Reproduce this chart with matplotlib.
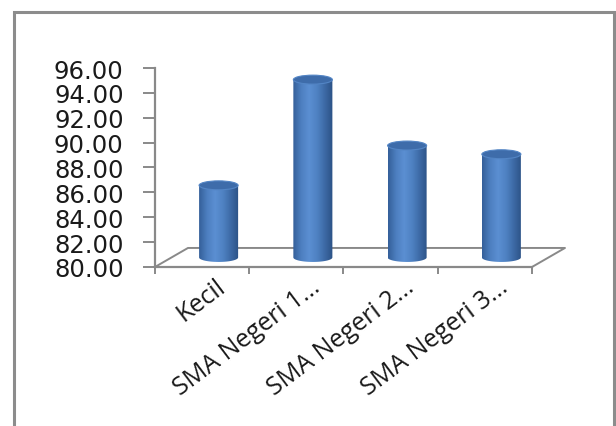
import numpy as np
import matplotlib
matplotlib.use("Agg")
import matplotlib.pyplot as plt
from matplotlib.patches import Ellipse, PathPatch, Rectangle
from matplotlib.path import Path
from matplotlib.colors import LinearSegmentedColormap

categories = ["Kecil", "SMA Negeri 1...", "SMA Negeri 2...", "SMA Negeri 3..."]
values = [85.8, 94.3, 89.0, 88.3]
y_ticks = [80, 82, 84, 86, 88, 90, 92, 94, 96]

# 3d look: depth offset of the floor (in data units), bar and cap sizes
depth_x, depth_y = 0.35, 1.53
bar_w = 0.414
cap_h = 0.72
axis_grey = "#898989"

fig = plt.figure(figsize=(6.16, 4.27), dpi=100)
ax = fig.add_axes([0.2516, 0.3724, 0.6688, 0.466])
ax.set_xlim(0, 4.371)
ax.set_ylim(80, 96)

for s in ["top", "right"]:
    ax.spines[s].set_visible(False)
for s in ["left", "bottom"]:
    ax.spines[s].set_color(axis_grey)
    ax.spines[s].set_linewidth(1.6)
ax.spines["bottom"].set_bounds(0, len(categories))

# floor outline
n = len(categories)
fx = [0, n, n + depth_x, depth_x, 0]
fy = [80, 80, 80 + depth_y, 80 + depth_y, 80]
ax.plot(fx, fy, color=axis_grey, lw=1.4, clip_on=False, zorder=1)

cmap = LinearSegmentedColormap.from_list(
    "cyl", ["#35609a", "#4d7fc0", "#5b8fd2", "#4f82c3", "#3d6aa6", "#2c5286"])
grad = np.linspace(0, 1, 64).reshape(1, -1)

# bars stand in the middle of the floor, height measured from there
base = 80 + depth_y / 2
for i, v in enumerate(values):
    cx = i + 0.5 + depth_x / 2
    top = base + (v - 80)
    x0, x1 = cx - bar_w / 2, cx + bar_w / 2
    t = np.linspace(np.pi, 2 * np.pi, 40)
    arc_x = cx + bar_w / 2 * np.cos(t)
    arc_y = base + cap_h / 2 * np.sin(t)
    verts = [(x0, top)] + list(zip(arc_x, arc_y)) + [(x1, top), (x0, top)]
    body = PathPatch(Path(verts), facecolor="none", edgecolor="none")
    ax.add_patch(body)
    im = ax.imshow(grad, cmap=cmap, aspect="auto",
                   extent=[x0, x1, base - cap_h, top], zorder=2)
    im.set_clip_path(body)
    cap = Ellipse((cx, top), bar_w, cap_h, facecolor="#3e6caa",
                  edgecolor="#5385c5", lw=0.8, zorder=3)
    ax.add_patch(cap)

ax.set_xlim(0, 4.371)
ax.set_ylim(80, 96)

ax.set_yticks(y_ticks)
ax.set_yticklabels([f"{t:.2f}" for t in y_ticks], fontsize=17.5,
                   family="DejaVu Sans", color="#1a1a1a")
ax.tick_params(axis="y", direction="out", length=8.5, width=1.4,
               color=axis_grey, pad=14)

ax.set_xticks(range(n + 1))
ax.set_xticklabels([])
ax.tick_params(axis="x", which="major", direction="out", length=5,
               width=1.4, color=axis_grey)
ax.set_xticks([i + 0.72 for i in range(n)], categories, minor=True)
ax.tick_params(axis="x", which="minor", length=0, pad=12)
for lab in ax.get_xticklabels(minor=True):
    lab.set_rotation(37)
    lab.set_rotation_mode("anchor")
    lab.set_ha("right")
    lab.set_va("center")
    lab.set_fontsize(18)
    lab.set_family("Open Sans")
    lab.set_color("#1a1a1a")

# chart frame
fig.add_artist(Rectangle((14 / 616, -0.1), 600 / 616, 1.1 - 13 / 427,
                         transform=fig.transFigure, fill=False,
                         edgecolor="#8c8c8c", lw=2.2))

fig.savefig("out.png", dpi=100)
